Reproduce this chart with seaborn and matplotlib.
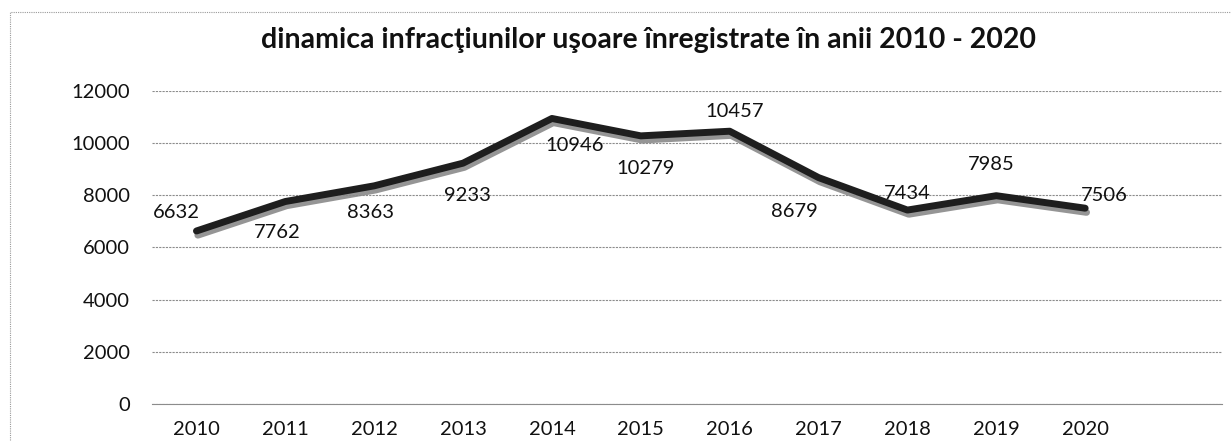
# plot.py
import matplotlib
matplotlib.use('Agg')
import matplotlib.pyplot as plt
import matplotlib.patheffects as pe
from matplotlib.patches import Rectangle
import seaborn as sns
import numpy as np

years = ['2010', '2011', '2012', '2013', '2014', '2015', '2016', '2017', '2018', '2019', '2020']
cases = [6632, 7762, 8363, 9233, 10946, 10279, 10457, 8679, 7434, 7985, 7506]
title = 'dinamica infracţiunilor uşoare înregistrate în anii 2010 - 2020'

# where excel put each data label, in pixels from the point (x, y up)
label_offsets = [(-20, 18), (-8, -31), (-4, -27), (4, -32), (23, -27), (5, -33),
                 (5, 20), (-24, -34), (0, 17), (-5, 31), (19, 13)]

sns.set_theme(style='white')
plt.rcParams['font.family'] = ['Lato', 'DejaVu Sans']

fig = plt.figure(figsize=(12.31, 4.41), dpi=100)
ax = fig.add_axes([0.1235, 0.084, 0.9927 - 0.1235, 0.7937 - 0.084])

xs = np.arange(len(years))
line_fx = [pe.SimpleLineShadow(offset=(1, -3), shadow_color='#8a8a8a', alpha=0.9),
           pe.Normal()]
sns.lineplot(x=xs, y=cases, ax=ax, color='#1e1e1e', linewidth=5,
             path_effects=line_fx, zorder=3)

for x, v, (dx, dy) in zip(xs, cases, label_offsets):
    ax.annotate(str(v), (x, v), xytext=(dx, dy), textcoords='offset pixels',
                ha='center', va='center', fontsize=14.5, color='#111111', zorder=4)

ax.set_ylim(0, 12000)
ax.set_xlim(-0.5, 11.54)
ax.set_yticks(range(0, 12001, 2000))
ax.set_xticks(xs)
ax.set_xticklabels(years)
ax.set_xticks(np.arange(-0.5, 11.5, 1), minor=True)

ax.grid(axis='y', color='#8c8c8c', linestyle=(0, (2, 1)), linewidth=0.8)
ax.grid(axis='x', visible=False)
ax.set_axisbelow(True)
for side in ['top', 'right', 'left']:
    ax.spines[side].set_visible(False)
ax.spines['bottom'].set_color('#8c8c8c')
ax.spines['bottom'].set_linewidth(0.8)

ax.tick_params(axis='y', length=0, pad=16, labelsize=14.5, labelcolor='#111111')
ax.tick_params(axis='x', which='major', length=0, pad=12, labelsize=14.5, labelcolor='#111111')
ax.tick_params(axis='x', which='minor', length=4, width=0.8, color='#8c8c8c', direction='out')

fig.text(0.527, 0.909, title, ha='center', va='center', fontsize=20.5,
         fontweight='bold', color='#111111')

# thin chart frame like the excel chart area
fig.patches.append(Rectangle((10 / 1231, -0.05), 1.0, 1 - 12 / 441 + 0.05,
                             transform=fig.transFigure, fill=False,
                             edgecolor='#9a9a9a', linewidth=0.8, linestyle=(0, (1, 1))))

fig.savefig('out.png', dpi=100)
